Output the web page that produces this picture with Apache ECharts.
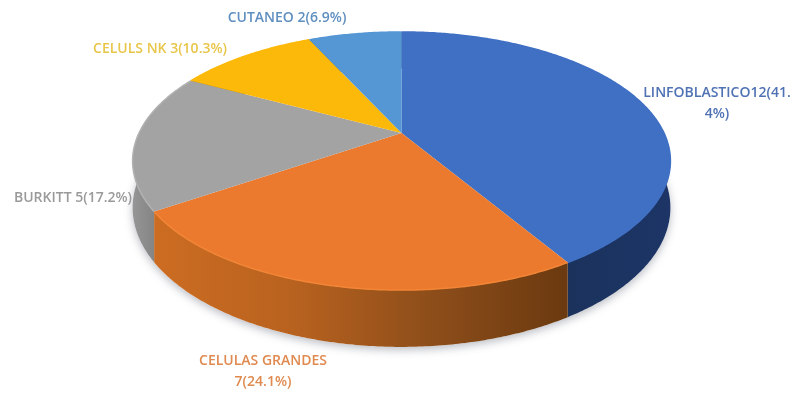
<!DOCTYPE html>
<html>
<head>
<meta charset="utf-8">
<style>html,body{margin:0;padding:0;background:#fff}#chart{width:793px;height:394px}</style>
<script src="https://cdn.jsdelivr.net/npm/echarts@6/dist/echarts.min.js"></script>
</head>
<body>
<div id="chart"></div>
<script>
// Lymphoma subtypes, clockwise from twelve o'clock
const categories = ['LINFOBLASTICO', 'CELULAS GRANDES', 'BURKITT', 'CELULS NK', 'CUTANEO'];
const counts = [12, 7, 5, 3, 2];
const labels = ['LINFOBLASTICO12(41.\n4%)', 'CELULAS GRANDES\n7(24.1%)', 'BURKITT 5(17.2%)', 'CELULS NK 3(10.3%)', 'CUTANEO 2(6.9%)'];
const topColors = ['#4070c4', '#ec7a2e', '#a3a3a3', '#fdb90a', '#5596d4'];
const labelColors = ['#4f72b4', '#e08a50', '#9a9a9a', '#e8c64a', '#5f8fc0'];

// Perspective disc: far edge foreshortened, near edge enlarged
const cx = 401.5, cy = 133, radX = 262.5, radY = 123, persp = 0.217, thickness = 44.5;
const total = counts.reduce((a, b) => a + b, 0);

function rim(theta, lower) {
  const X = Math.sin(theta), Y = Math.cos(theta), w = 1 + persp * Y;
  return [cx + radX * X / w, cy - radY * Y / w + (lower ? thickness / w : 0)];
}
function arc(a0, a1, lower) {
  const n = Math.max(2, Math.ceil((a1 - a0) / 0.01)), pts = [];
  for (let i = 0; i <= n; i++) pts.push(rim(a0 + (a1 - a0) * i / n, lower));
  return pts;
}
function sliceAngles(i) {
  const before = counts.slice(0, i).reduce((a, b) => a + b, 0);
  return [before / total * 2 * Math.PI, (before + counts[i]) / total * 2 * Math.PI];
}
function hGrad(x0, x1, stops) {
  return new echarts.graphic.LinearGradient(x0, 0, x1, 0,
    stops.map((c, k) => ({ offset: k / (stops.length - 1), color: c })), true);
}
const sideFills = [
  hGrad(563, 670, ['#1b325c', '#1c3566']),
  hGrad(158, 563, ['#cc6c22', '#b8621f', '#8e4e1a', '#6c3a10']),
  hGrad(132, 160, ['#969696', '#808080']),
  '#a08000',
  '#3a6ea0'
];
const rimColors = ['#4070c4', '#f28536', '#b2b2b2', '#fdb90a', '#5596d4'];
const labelBoxes = [[717, 104], [263, 372], [73, 198], [160, 49], [287, 18]];

const option = {
  animation: false,
  backgroundColor: '#ffffff',
  series: [
    { // soft shadow under the whole disc
      type: 'custom', coordinateSystem: 'none', silent: true, z: 1,
      data: [total],
      renderItem() {
        return {
          type: 'polygon',
          shape: { points: arc(0, 2 * Math.PI, true) },
          style: { fill: '#ffffff', shadowColor: 'rgba(60,70,90,0.35)', shadowBlur: 9, shadowOffsetY: 3 }
        };
      }
    },
    { // outer wall of each slice
      type: 'custom', coordinateSystem: 'none', silent: true, z: 2,
      data: counts,
      renderItem(params) {
        const [a0, a1] = sliceAngles(params.dataIndex);
        const pts = arc(a0, a1, false).concat(arc(a0, a1, true).reverse());
        return { type: 'polygon', shape: { points: pts }, style: { fill: sideFills[params.dataIndex] } };
      }
    },
    { // top face of each slice with its lit edge
      type: 'custom', coordinateSystem: 'none', silent: true, z: 3,
      data: counts,
      renderItem(params) {
        const i = params.dataIndex, [a0, a1] = sliceAngles(i);
        return {
          type: 'group',
          children: [
            { type: 'polygon', shape: { points: [[cx, cy]].concat(arc(a0, a1, false)) }, style: { fill: topColors[i] } },
            { type: 'polyline', shape: { points: arc(a0, a1, false) }, style: { fill: null, stroke: rimColors[i], lineWidth: 1.5 } }
          ]
        };
      }
    },
    { // slice captions
      type: 'custom', coordinateSystem: 'none', silent: true, z: 4,
      data: categories,
      renderItem(params) {
        const i = params.dataIndex;
        return {
          type: 'text',
          x: labelBoxes[i][0], y: labelBoxes[i][1],
          style: {
            text: labels[i], fill: labelColors[i], align: 'center', verticalAlign: 'middle',
            font: '600 14px "Open Sans", sans-serif', lineHeight: 21
          }
        };
      }
    }
  ]
};
echarts.init(document.getElementById('chart'), null, { renderer: 'canvas' }).setOption(option);
</script>
</body>
</html>
